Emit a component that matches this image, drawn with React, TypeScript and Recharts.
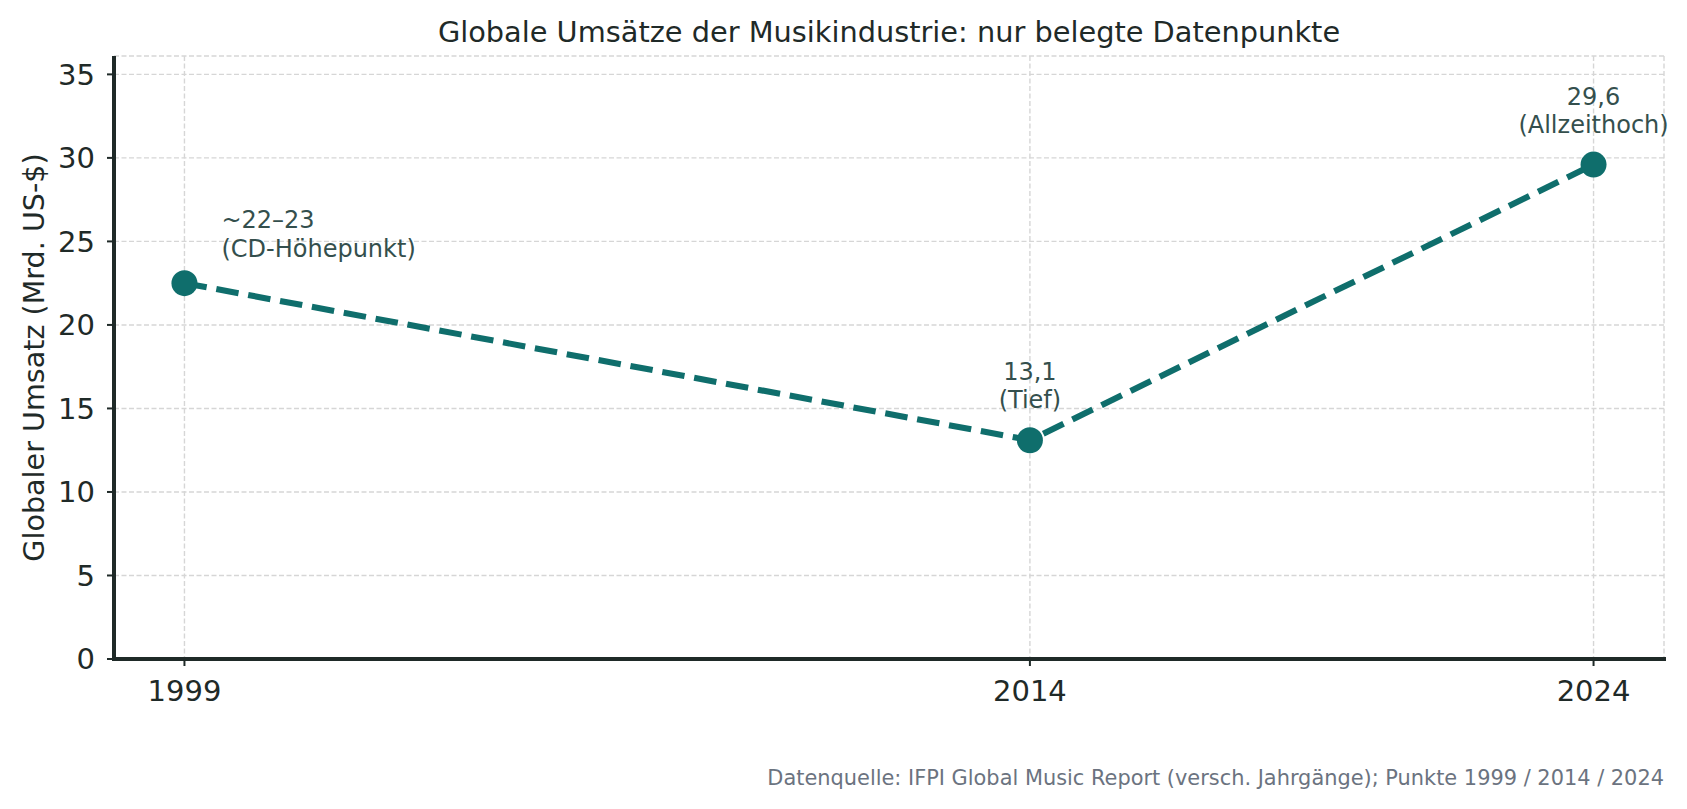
import { LineChart, Line, XAxis, YAxis, CartesianGrid, LabelList } from "recharts";

// Data (IFPI global recorded music revenues, bn US$)
const YEARS = [1999, 2014, 2024];
const REVENUE = [22.5, 13.1, 29.6];
const NOTE_VALUE = ["~22–23", "13,1", "29,6"];
const NOTE_TEXT = ["(CD-Höhepunkt)", "(Tief)", "(Allzeithoch)"];
const Y_TICKS = [0, 5, 10, 15, 20, 25, 30, 35];

const TITLE = "Globale Umsätze der Musikindustrie: nur belegte Datenpunkte";
const Y_LABEL = "Globaler Umsatz (Mrd. US-$)";
const SOURCE =
  "Datenquelle: IFPI Global Music Report (versch. Jahrgänge); Punkte 1999 / 2014 / 2024";

const W = 1687;
const H = 809;
const FONT = "DejaVu Sans, sans-serif";
const TEAL = "#0f6e6c";
const INK = "#1f2a28";
const NOTE_INK = "#344f4d";

const data = YEARS.map((year, i) => ({ year, revenue: REVENUE[i] }));

// point annotations: first one sits right of the point, others centred above
function Note(props: any) {
  const { x, y, index } = props;
  if (x == null || y == null) return null;
  const first = index === 0;
  const tx = first ? x + 37 : x;
  const anchor = first ? "start" : "middle";
  const dy1 = first ? -55 : -60;
  const dy2 = first ? -26 : -32;
  return (
    <g>
      <text x={tx} y={y + dy1} textAnchor={anchor} fill={NOTE_INK} fontSize={24} fontFamily={FONT}>
        {NOTE_VALUE[index]}
      </text>
      <text x={tx} y={y + dy2} textAnchor={anchor} fill={NOTE_INK} fontSize={24} fontFamily={FONT}>
        {NOTE_TEXT[index]}
      </text>
    </g>
  );
}

export default function App() {
  return (
    <div style={{ position: "absolute", left: 0, top: 0, width: W, height: H, background: "#fff" }}>
      <LineChart width={W} height={H} data={data} margin={{ top: 56, right: 23, bottom: 0, left: 0 }}>
        <CartesianGrid stroke="#d6d6d6" strokeWidth={1.4} strokeDasharray="5 2.5" />
        <XAxis
          dataKey="year"
          type="number"
          domain={[1997.75, 2025.25]}
          ticks={YEARS}
          allowDataOverflow
          height={150}
          tickSize={7}
          tickMargin={14}
          tick={{ fill: INK, fontSize: 29, fontFamily: FONT }}
          tickLine={{ stroke: INK, strokeWidth: 2 }}
          axisLine={{ stroke: INK, strokeWidth: 4, strokeLinecap: "square" }}
        />
        <YAxis
          type="number"
          domain={[0, 36.1]}
          ticks={Y_TICKS}
          allowDataOverflow
          width={114}
          tickSize={7}
          tickMargin={12}
          tick={{ fill: INK, fontSize: 29, fontFamily: FONT }}
          tickLine={{ stroke: INK, strokeWidth: 2 }}
          axisLine={{ stroke: INK, strokeWidth: 4 }}
        />
        <Line
          type="linear"
          dataKey="revenue"
          stroke={TEAL}
          strokeWidth={6.1}
          strokeDasharray="22.6 9.8"
          dot={{ r: 13, fill: TEAL, stroke: "none" }}
          activeDot={false}
          isAnimationActive={false}
        >
          <LabelList dataKey="revenue" content={<Note />} />
        </Line>
      </LineChart>

      {/* title, axis label and source line */}
      <svg width={W} height={H} style={{ position: "absolute", left: 0, top: 0, pointerEvents: "none" }}>
        <text x={889} y={41.5} textAnchor="middle" fill={INK} fontSize={28.8} fontFamily={FONT}>
          {TITLE}
        </text>
        <text
          transform="translate(43.5, 357.5) rotate(-90)"
          textAnchor="middle"
          fill={INK}
          fontSize={28.6}
          fontFamily={FONT}
        >
          {Y_LABEL}
        </text>
        <text x={1664} y={784.5} textAnchor="end" fill="#6b7380" fontSize={20.9} fontFamily={FONT}>
          {SOURCE}
        </text>
      </svg>
    </div>
  );
}
